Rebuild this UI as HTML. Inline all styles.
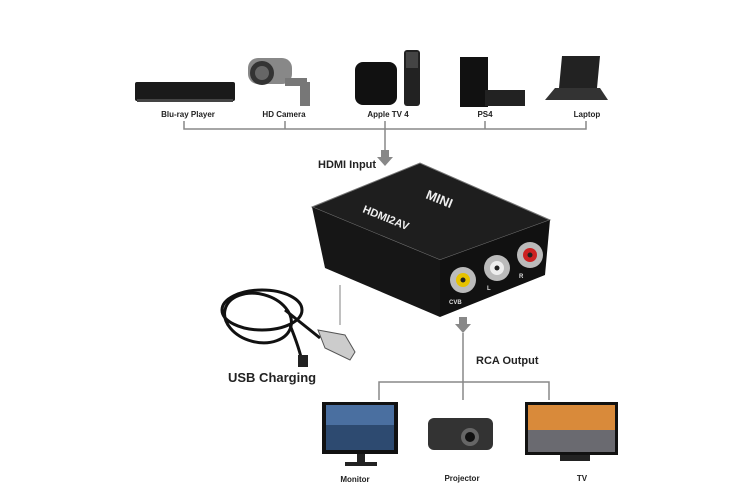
<!DOCTYPE html>
<html><head><style>
body{margin:0;background:#fff;width:753px;height:502px;overflow:hidden}
svg{display:block}
text{font-family:"Liberation Sans",sans-serif;font-weight:bold;fill:#222}
</style></head><body>
<svg width="753" height="502" viewBox="0 0 753 502">
<!-- top devices -->
<rect x="135" y="82" width="100" height="19" rx="2" fill="#1a1a1a"/>
<rect x="137" y="99" width="96" height="3" fill="#444"/>
<rect x="248" y="58" width="44" height="26" rx="10" fill="#888"/>
<circle cx="262" cy="73" r="12" fill="#333"/>
<circle cx="262" cy="73" r="7" fill="#666"/>
<rect x="285" y="78" width="22" height="8" fill="#777"/>
<rect x="300" y="82" width="10" height="24" fill="#777"/>
<rect x="355" y="62" width="42" height="43" rx="8" fill="#111"/>
<rect x="404" y="50" width="16" height="56" rx="3" fill="#222"/>
<rect x="406" y="52" width="12" height="16" fill="#444"/>
<rect x="460" y="57" width="28" height="50" fill="#111"/>
<rect x="485" y="90" width="40" height="16" fill="#222"/>
<polygon points="562,56 600,56 597,88 559,88" fill="#222"/>
<polygon points="555,88 600,88 608,100 545,100" fill="#333"/>
<g font-size="8" text-anchor="middle">
<text x="188" y="117">Blu-ray Player</text>
<text x="284" y="117">HD Camera</text>
<text x="388" y="117">Apple TV 4</text>
<text x="485" y="117">PS4</text>
<text x="587" y="117">Laptop</text>
</g>
<g stroke="#888" stroke-width="1.5" fill="none">
<path d="M184 121V129H586V121M285 121V129M485 121V129M385 121V152"/>
</g>
<polygon points="381,150 389,150 389,157 393,157 385,166 377,157 381,157" fill="#888"/>
<text x="318" y="168" font-size="11">HDMI Input</text>
<!-- converter box -->
<polygon points="312,207 420,163 550,220 440,260" fill="#1e1e1e" stroke="#777" stroke-width="1"/>
<polygon points="440,260 550,220 545,275 440,317" fill="#111"/>
<polygon points="312,207 440,260 440,317 325,268" fill="#161616"/>
<text x="425" y="198" font-size="13" style="fill:#eee" transform="rotate(22 425 198)">MINI</text>
<text x="362" y="212" font-size="11" style="fill:#eee" transform="rotate(22 362 212)">HDMI2AV</text>
<g>
<circle cx="463" cy="280" r="13" fill="#bbb"/><circle cx="463" cy="280" r="7" fill="#e6c200"/><circle cx="463" cy="280" r="2.5" fill="#222"/>
<circle cx="497" cy="268" r="13" fill="#bbb"/><circle cx="497" cy="268" r="7" fill="#eee"/><circle cx="497" cy="268" r="2.5" fill="#222"/>
<circle cx="530" cy="255" r="13" fill="#bbb"/><circle cx="530" cy="255" r="7" fill="#c22"/><circle cx="530" cy="255" r="2.5" fill="#222"/>
</g>
<g font-size="6" style="fill:#ddd">
<text x="449" y="304" style="fill:#ddd">CVB</text>
<text x="487" y="290" style="fill:#ddd">L</text>
<text x="519" y="278" style="fill:#ddd">R</text>
</g>
<!-- USB cable -->
<g fill="none" stroke="#111" stroke-width="3">
<ellipse cx="262" cy="310" rx="40" ry="20"/>
<ellipse cx="258" cy="318" rx="34" ry="24" transform="rotate(15 258 318)"/>
<path d="M290 325 Q300 350 302 362"/>
<path d="M285 310 Q310 330 320 338"/>
</g>
<polygon points="318,330 345,335 355,352 350,360 325,348" fill="#ccc" stroke="#555"/>
<rect x="298" y="355" width="10" height="12" fill="#222"/>
<line x1="340" y1="285" x2="340" y2="325" stroke="#aaa" stroke-width="1.5"/>
<text x="228" y="382" font-size="13">USB Charging</text>
<!-- RCA output -->
<polygon points="459,317 467,317 467,324 471,324 463,333 455,324 459,324" fill="#888"/>
<g stroke="#888" stroke-width="1.5" fill="none">
<path d="M463 333V400M379 400V382H549V400"/>
</g>
<text x="476" y="364" font-size="11">RCA Output</text>
<!-- bottom devices -->
<rect x="322" y="402" width="76" height="52" fill="#111"/>
<rect x="326" y="405" width="68" height="45" fill="#4a6fa0"/>
<rect x="326" y="425" width="68" height="25" fill="#2d4a70"/>
<rect x="357" y="454" width="8" height="8" fill="#222"/>
<rect x="345" y="462" width="32" height="4" fill="#222"/>
<rect x="428" y="418" width="65" height="32" rx="6" fill="#333"/>
<circle cx="470" cy="437" r="9" fill="#666"/><circle cx="470" cy="437" r="5" fill="#111"/>
<rect x="525" y="402" width="93" height="53" fill="#111"/>
<rect x="528" y="405" width="87" height="25" fill="#d98a3a"/>
<rect x="528" y="430" width="87" height="22" fill="#6a6a70"/>
<rect x="560" y="455" width="30" height="6" fill="#222"/>
<g font-size="8" text-anchor="middle">
<text x="355" y="482">Monitor</text>
<text x="462" y="481">Projector</text>
<text x="582" y="481">TV</text>
</g>
</svg>
</body></html>
